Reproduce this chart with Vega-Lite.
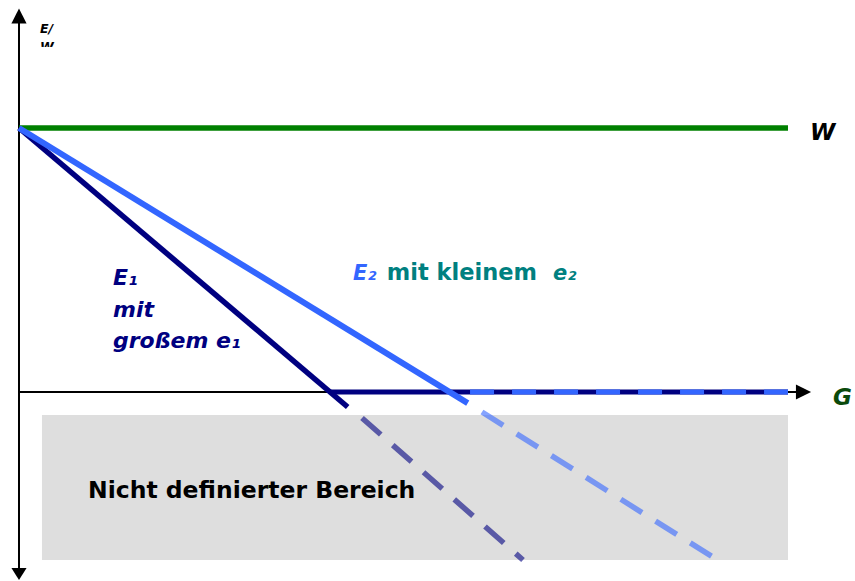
{
  "$schema": "https://vega.github.io/schema/vega-lite/v6.json",
  "width": 855,
  "height": 581,
  "autosize": {"type": "fit", "contains": "padding"},
  "padding": 0,
  "background": "white",
  "config": {"view": {"stroke": null}},
  "datasets": {
    "region": [{"name": "Nicht definierter Bereich", "x": 2.98, "x2": 99.74, "y": -8.71, "y2": -63.64}],
    "mask": [{"x": 2.4, "x2": 5.8, "y": 130.7, "y2": 126.6}],
    "segments": [
      {"seg": "axisY", "x": 0, "y": -69.3, "x2": 0, "y2": 143.9},
      {"seg": "axisX", "x": 0, "y": 0, "x2": 101.3, "y2": 0},
      {"seg": "W", "x": 0, "y": 100, "x2": 99.74, "y2": 100},
      {"seg": "E1 floor", "x": 40.34, "y": 0, "x2": 99.74, "y2": 0},
      {"seg": "E2 floor", "x": 58.5, "y": 0, "x2": 99.74, "y2": 0},
      {"seg": "E1", "x": 0, "y": 100, "x2": 42.63, "y2": -5.68},
      {"seg": "E1 undefined", "x": 44.49, "y": -9.85, "x2": 65.37, "y2": -63.64},
      {"seg": "E2", "x": 0, "y": 100, "x2": 58.2, "y2": -4.2},
      {"seg": "E2 undefined", "x": 60.05, "y": -7.58, "x2": 90.6, "y2": -63.64}
    ],
    "arrows": [
      {"dir": "up", "x": 0, "y": 142.42},
      {"dir": "down", "x": 0, "y": -68.94},
      {"dir": "right", "x": 101.75, "y": 0}
    ],
    "labels": [
      {"grp": "axis", "label": "E/", "x": 2.72, "y": 135.98},
      {"grp": "axis", "label": "W", "x": 2.72, "y": 129.2},
      {"grp": "W", "label": "W", "x": 102.6, "y": 95.45},
      {"grp": "G", "label": "G", "x": 105.58, "y": -4.92},
      {"grp": "E1", "label": "E₁", "x": 12.19, "y": 40.53},
      {"grp": "E1", "label": "mit", "x": 12.19, "y": 28.41},
      {"grp": "E1", "label": "großem e₁", "x": 12.19, "y": 16.67},
      {"grp": "E2", "label": "E₂", "x": 43.32, "y": 42.42},
      {"grp": "E2 text", "label": "mit kleinem", "x": 47.7, "y": 42.42},
      {"grp": "e2", "label": "e₂", "x": 69.26, "y": 42.42},
      {"grp": "region", "label": "Nicht definierter Bereich", "x": 8.95, "y": -40.0}
    ]
  },
  "encoding": {
    "x": {"field": "x", "type": "quantitative", "scale": {"domain": [-2.464, 108.43], "nice": false, "zero": false}, "axis": null},
    "y": {"field": "y", "type": "quantitative", "scale": {"domain": [-71.59, 148.48], "nice": false, "zero": false}, "axis": null}
  },
  "layer": [
    {
      "data": {"name": "region"},
      "mark": {"type": "rect", "color": "#DEDEDE"},
      "encoding": {"x2": {"field": "x2"}, "y2": {"field": "y2"}}
    },
    {
      "data": {"name": "segments"},
      "transform": [{"filter": "datum.seg === 'axisY' || datum.seg === 'axisX'"}],
      "mark": {"type": "rule", "color": "#000000", "strokeWidth": 2},
      "encoding": {"x2": {"field": "x2"}, "y2": {"field": "y2"}}
    },
    {
      "data": {"name": "arrows"},
      "mark": {"type": "point", "filled": true, "color": "#000000", "opacity": 1, "size": 230},
      "encoding": {
        "shape": {"field": "dir", "type": "nominal", "legend": null,
          "scale": {"domain": ["up", "down", "right"], "range": ["M0,-1L1,1L-1,1Z", "M0,0.8L1,-0.8L-1,-0.8Z", "M1,0L-1,-1L-1,1Z"]}}
      }
    },
    {
      "data": {"name": "segments"},
      "transform": [{"filter": "datum.seg === 'W'"}],
      "mark": {"type": "rule", "color": "#008000", "strokeWidth": 5.5},
      "encoding": {"x2": {"field": "x2"}, "y2": {"field": "y2"}}
    },
    {
      "data": {"name": "segments"},
      "transform": [{"filter": "datum.seg === 'E1 floor'"}],
      "mark": {"type": "rule", "color": "#000080", "strokeWidth": 5},
      "encoding": {"x2": {"field": "x2"}, "y2": {"field": "y2"}}
    },
    {
      "data": {"name": "segments"},
      "transform": [{"filter": "datum.seg === 'E2 floor'"}],
      "mark": {"type": "rule", "color": "#3366FF", "strokeWidth": 5, "strokeDash": [24, 18]},
      "encoding": {"x2": {"field": "x2"}, "y2": {"field": "y2"}}
    },
    {
      "data": {"name": "segments"},
      "transform": [{"filter": "datum.seg === 'E1'"}],
      "mark": {"type": "rule", "color": "#000080", "strokeWidth": 5.5},
      "encoding": {"x2": {"field": "x2"}, "y2": {"field": "y2"}}
    },
    {
      "data": {"name": "segments"},
      "transform": [{"filter": "datum.seg === 'E1 undefined'"}],
      "mark": {"type": "rule", "color": "#000080", "opacity": 0.6, "strokeWidth": 5.5, "strokeDash": [25, 16]},
      "encoding": {"x2": {"field": "x2"}, "y2": {"field": "y2"}}
    },
    {
      "data": {"name": "segments"},
      "transform": [{"filter": "datum.seg === 'E2'"}],
      "mark": {"type": "rule", "color": "#3366FF", "strokeWidth": 6},
      "encoding": {"x2": {"field": "x2"}, "y2": {"field": "y2"}}
    },
    {
      "data": {"name": "segments"},
      "transform": [{"filter": "datum.seg === 'E2 undefined'"}],
      "mark": {"type": "rule", "color": "#3366FF", "opacity": 0.6, "strokeWidth": 5.5, "strokeDash": [25, 16]},
      "encoding": {"x2": {"field": "x2"}, "y2": {"field": "y2"}}
    },
    {
      "data": {"name": "labels"},
      "transform": [{"filter": "datum.grp === 'axis'"}],
      "mark": {"type": "text", "align": "left", "baseline": "alphabetic", "font": "DejaVu Sans", "fontWeight": "bold", "fontStyle": "italic", "fontSize": 12.5, "color": "#000000"},
      "encoding": {"text": {"field": "label"}}
    },
    {
      "data": {"name": "mask"},
      "mark": {"type": "rect", "color": "#FFFFFF"},
      "encoding": {"x2": {"field": "x2"}, "y2": {"field": "y2"}}
    },
    {
      "data": {"name": "labels"},
      "transform": [{"filter": "datum.grp === 'W'"}],
      "mark": {"type": "text", "align": "left", "baseline": "alphabetic", "font": "DejaVu Sans", "fontWeight": "bold", "fontStyle": "italic", "fontSize": 23, "color": "#000000"},
      "encoding": {"text": {"field": "label"}}
    },
    {
      "data": {"name": "labels"},
      "transform": [{"filter": "datum.grp === 'G'"}],
      "mark": {"type": "text", "align": "left", "baseline": "alphabetic", "font": "DejaVu Sans", "fontWeight": "bold", "fontStyle": "italic", "fontSize": 23, "color": "#0B4A0B"},
      "encoding": {"text": {"field": "label"}}
    },
    {
      "data": {"name": "labels"},
      "transform": [{"filter": "datum.grp === 'E1'"}],
      "mark": {"type": "text", "align": "left", "baseline": "alphabetic", "font": "DejaVu Sans", "fontWeight": "bold", "fontStyle": "italic", "fontSize": 22, "color": "#000080"},
      "encoding": {"text": {"field": "label"}}
    },
    {
      "data": {"name": "labels"},
      "transform": [{"filter": "datum.grp === 'E2'"}],
      "mark": {"type": "text", "align": "left", "baseline": "alphabetic", "font": "DejaVu Sans", "fontWeight": "bold", "fontStyle": "italic", "fontSize": 21, "color": "#3366FF"},
      "encoding": {"text": {"field": "label"}}
    },
    {
      "data": {"name": "labels"},
      "transform": [{"filter": "datum.grp === 'E2 text'"}],
      "mark": {"type": "text", "align": "left", "baseline": "alphabetic", "font": "DejaVu Sans", "fontWeight": "bold", "fontSize": 22.5, "color": "#008080"},
      "encoding": {"text": {"field": "label"}}
    },
    {
      "data": {"name": "labels"},
      "transform": [{"filter": "datum.grp === 'e2'"}],
      "mark": {"type": "text", "align": "left", "baseline": "alphabetic", "font": "DejaVu Sans", "fontWeight": "bold", "fontStyle": "italic", "fontSize": 21, "color": "#008080"},
      "encoding": {"text": {"field": "label"}}
    },
    {
      "data": {"name": "labels"},
      "transform": [{"filter": "datum.grp === 'region'"}],
      "mark": {"type": "text", "align": "left", "baseline": "alphabetic", "font": "DejaVu Sans", "fontWeight": "bold", "fontSize": 23.5, "color": "#000000"},
      "encoding": {"text": {"field": "label"}}
    }
  ]
}
